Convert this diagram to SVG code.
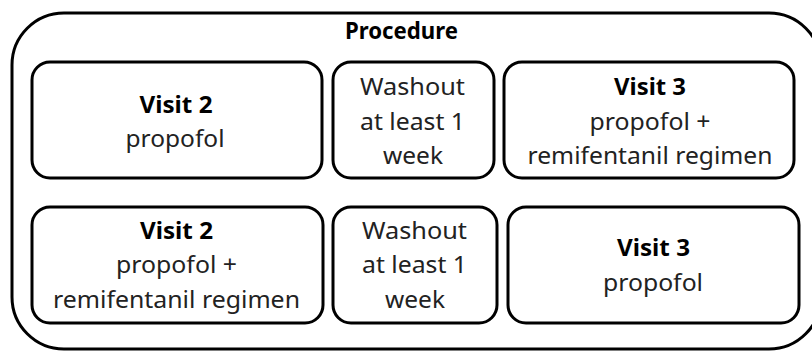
<svg xmlns="http://www.w3.org/2000/svg" width="812" height="351" viewBox="0 0 812 351">
<style>
.box{fill:#fff;stroke:#000;stroke-width:3}
.t{font-family:"Noto Sans","Liberation Sans",sans-serif;font-size:23px;fill:#222;text-anchor:middle}
.b{font-weight:bold;fill:#000}
</style>
<rect width="812" height="351" fill="#fff"/>
<g id="procedure">
<rect class="box" x="12" y="13" width="809" height="336" rx="52" ry="52"/>
<text class="t b" x="401.5" y="39" textLength="113" lengthAdjust="spacingAndGlyphs">Procedure</text>
</g>
<g id="visit2-propofol">
<rect class="box" x="32" y="62" width="290" height="116" rx="18" ry="18"/>
<text class="t b" x="176" y="113" textLength="73" lengthAdjust="spacingAndGlyphs">Visit 2</text>
<text class="t" x="175" y="147" textLength="99" lengthAdjust="spacingAndGlyphs">propofol</text>
</g>
<g id="washout-top">
<rect class="box" x="333" y="62" width="161" height="116" rx="18" ry="18"/>
<text class="t" x="412.5" y="95" textLength="105" lengthAdjust="spacingAndGlyphs">Washout</text>
<text class="t" x="412.5" y="130" textLength="105" lengthAdjust="spacingAndGlyphs">at least 1</text>
<text class="t" x="413" y="164" textLength="60" lengthAdjust="spacingAndGlyphs">week</text>
</g>
<g id="visit3-combo">
<rect class="box" x="504" y="62" width="290" height="116" rx="18" ry="18"/>
<text class="t b" x="650" y="95" textLength="72" lengthAdjust="spacingAndGlyphs">Visit 3</text>
<text class="t" x="650" y="130" textLength="121" lengthAdjust="spacingAndGlyphs">propofol +</text>
<text class="t" x="650" y="164" textLength="245" lengthAdjust="spacingAndGlyphs">remifentanil regimen</text>
</g>
<g id="visit2-combo">
<rect class="box" x="32" y="207" width="291" height="116" rx="18" ry="18"/>
<text class="t b" x="176.5" y="239" textLength="73" lengthAdjust="spacingAndGlyphs">Visit 2</text>
<text class="t" x="176.5" y="273" textLength="121" lengthAdjust="spacingAndGlyphs">propofol +</text>
<text class="t" x="176.5" y="308" textLength="247" lengthAdjust="spacingAndGlyphs">remifentanil regimen</text>
</g>
<g id="washout-bottom">
<rect class="box" x="333" y="207" width="164" height="116" rx="18" ry="18"/>
<text class="t" x="414.5" y="239" textLength="105" lengthAdjust="spacingAndGlyphs">Washout</text>
<text class="t" x="414.5" y="273" textLength="105" lengthAdjust="spacingAndGlyphs">at least 1</text>
<text class="t" x="415" y="308" textLength="60" lengthAdjust="spacingAndGlyphs">week</text>
</g>
<g id="visit3-propofol">
<rect class="box" x="508" y="207" width="291" height="116" rx="18" ry="18"/>
<text class="t b" x="653.5" y="256" textLength="73" lengthAdjust="spacingAndGlyphs">Visit 3</text>
<text class="t" x="653" y="291" textLength="100" lengthAdjust="spacingAndGlyphs">propofol</text>
</g>
<g id="connectors"></g>
</svg>
